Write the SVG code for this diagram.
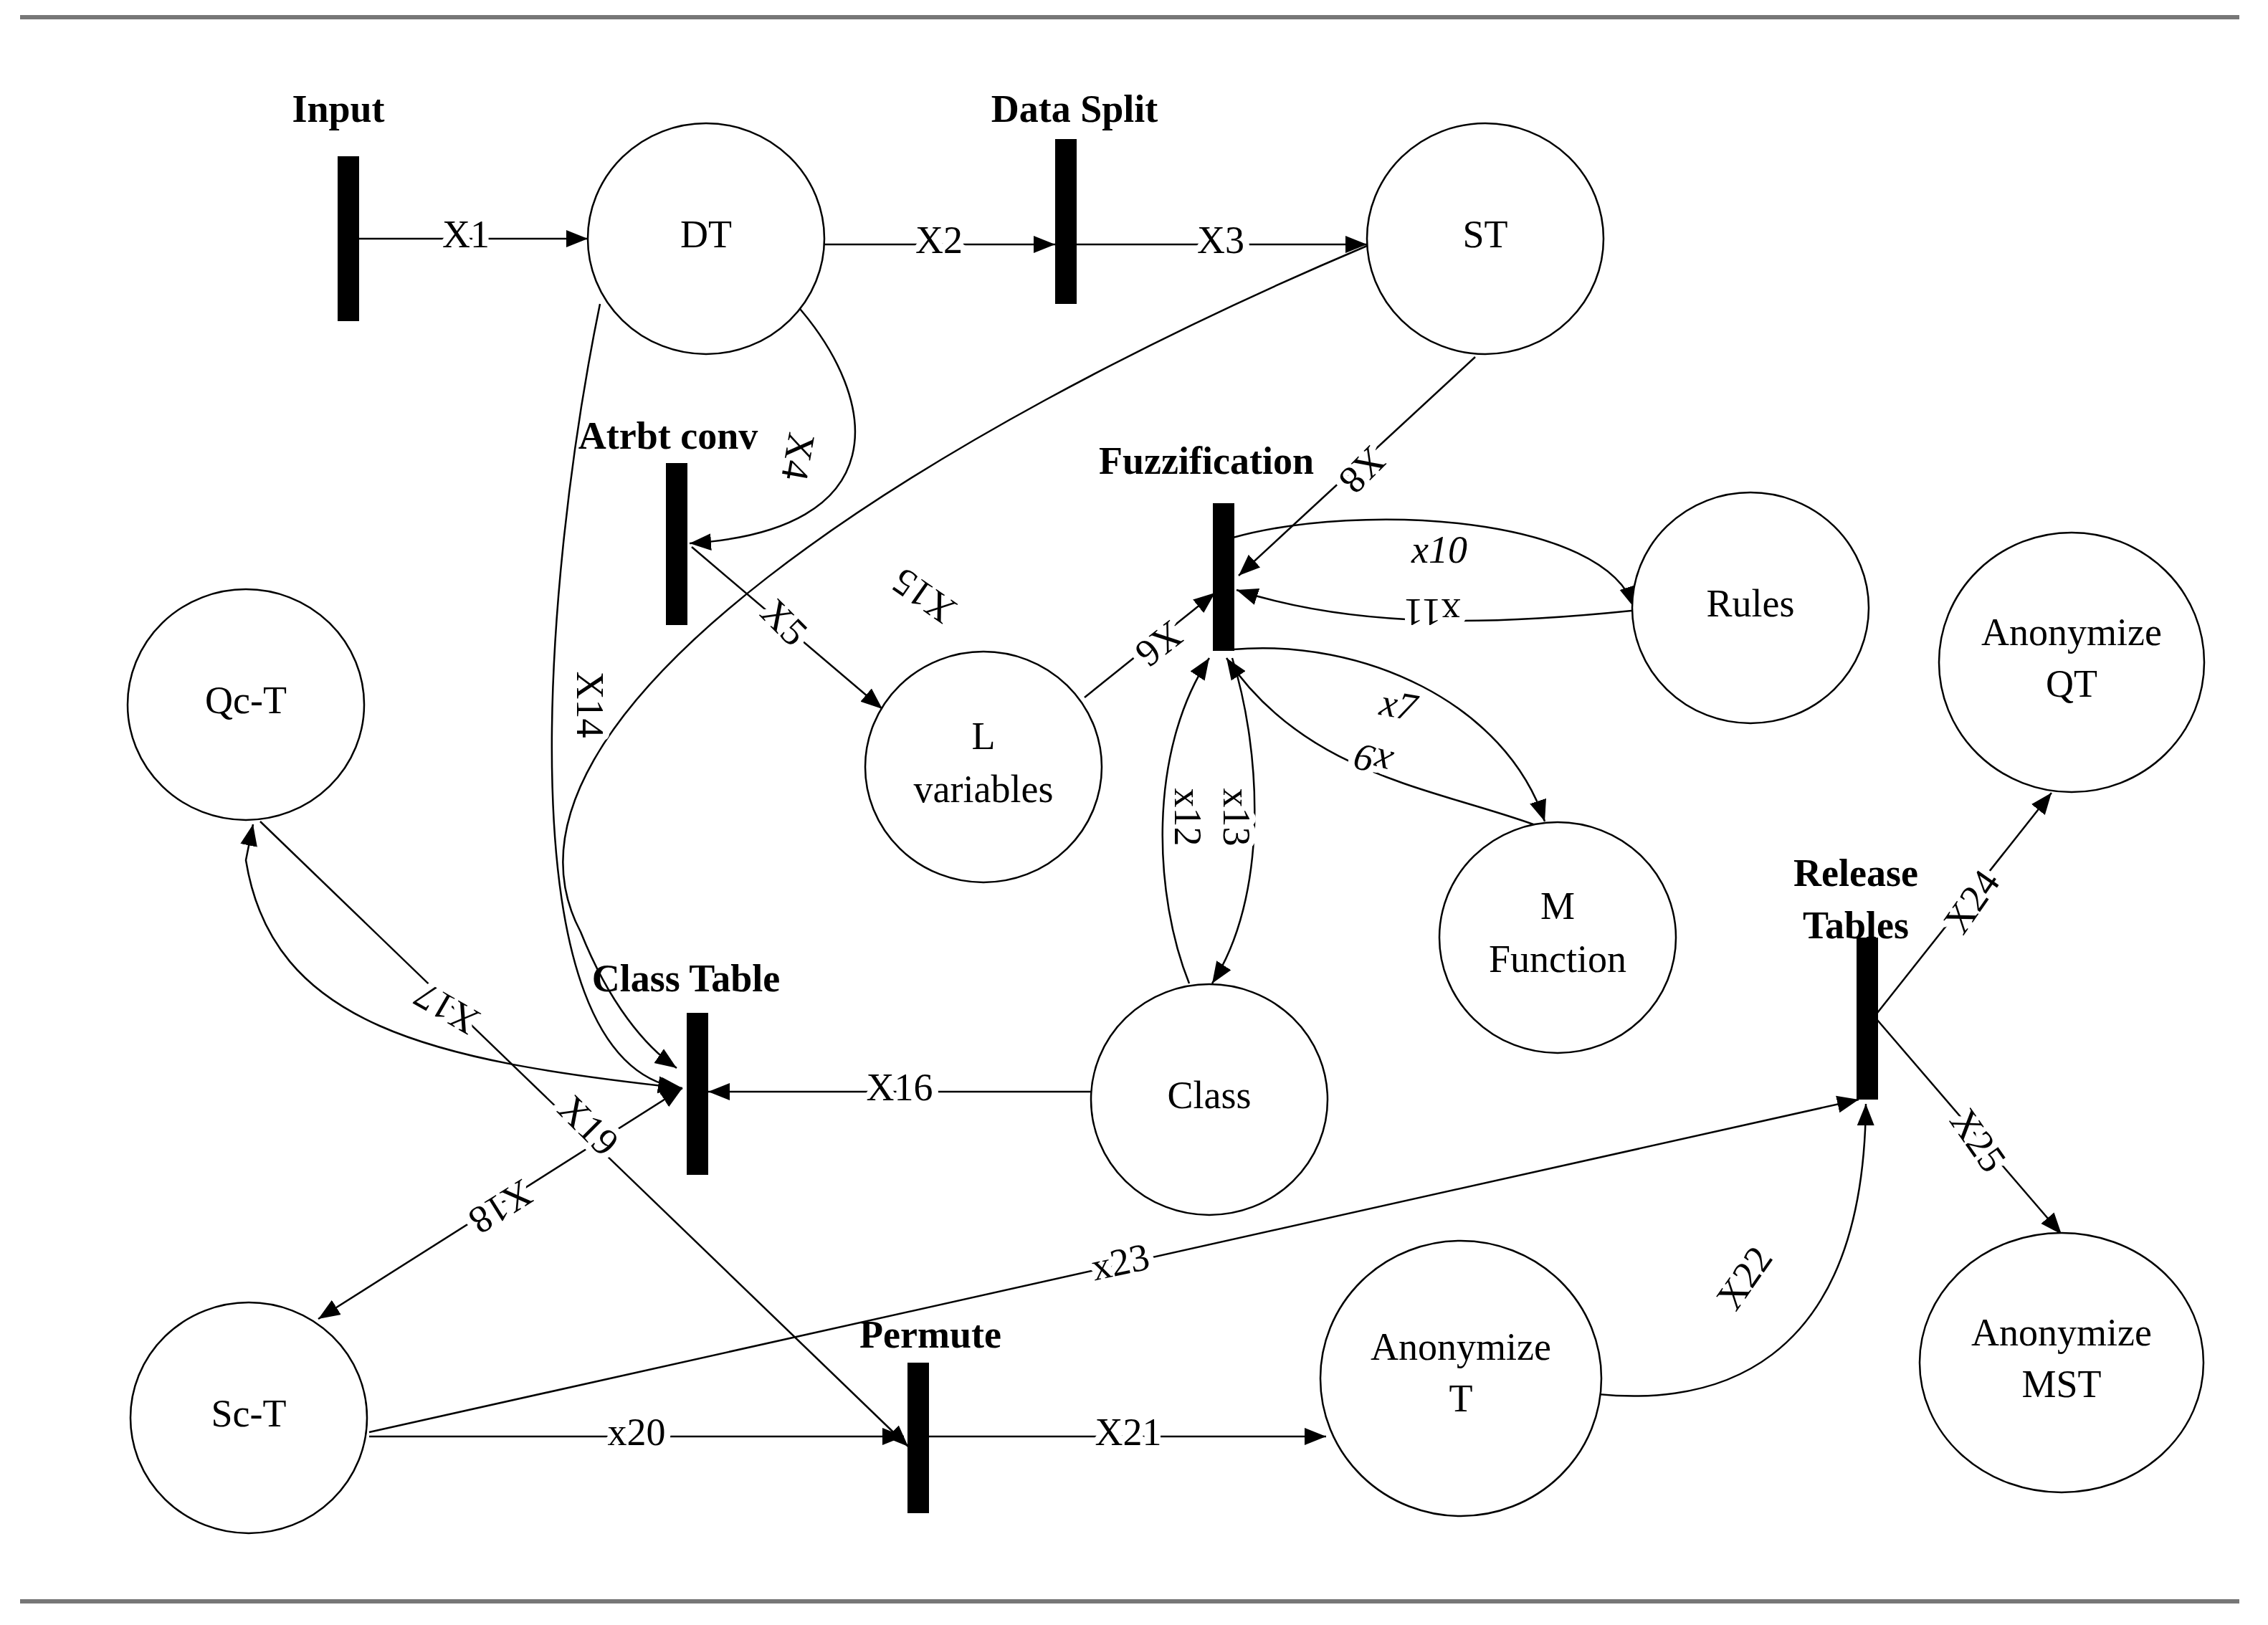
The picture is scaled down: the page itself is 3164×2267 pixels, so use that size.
<svg xmlns="http://www.w3.org/2000/svg" width="3164" height="2267" viewBox="0 0 3164 2267">
<style>
.n{fill:#fff;stroke:#000;stroke-width:2.5}
.b{fill:#000}
.t{font-family:"Liberation Serif",serif;font-size:54px;text-anchor:middle;dominant-baseline:middle}
.h{font-family:"Liberation Serif",serif;font-size:54px;font-weight:bold;text-anchor:middle}
.e{fill:none;stroke:#000;stroke-width:2.5;marker-end:url(#a2)}
.l{font-family:"Liberation Serif",serif;font-size:54px;text-anchor:middle;dominant-baseline:middle;paint-order:stroke;stroke:#fff;stroke-width:18;stroke-linejoin:round}
.i{font-style:italic}
</style>
<defs>
<marker id="a2" viewBox="0 0 10 10" refX="10" refY="5" markerWidth="30" markerHeight="30" markerUnits="userSpaceOnUse" orient="auto-start-reverse"><path d="M0,1L10,5L0,9z"/></marker></defs>
<line x1="28" y1="24" x2="3124" y2="24" stroke="#777" stroke-width="6"/>
<line x1="28" y1="2234" x2="3124" y2="2234" stroke="#777" stroke-width="6"/>
<g id="edges">
<path class="e" d="M500,333H820"/>
<path class="e" d="M1150,341H1472"/>
<path class="e" d="M1502,341H1907"/>
<path class="e" d="M1110,424C1230,560 1250,740 962,758"/>
<path class="e" d="M965,763L1231,989"/>
<path class="e" d="M1513,973L1695,827"/>
<path class="e" d="M2058,498L1728,803"/>
<path class="e" d="M1720,750C1900,700 2240,720 2280,848"/>
<path class="e" d="M2276,852C2100,870 1900,880 1725,823"/>
<path class="e" d="M1720,906C1900,890 2100,980 2155,1146"/>
<path class="e" d="M2139,1150C2000,1100 1820,1080 1711,918"/>
<path class="e" d="M1659,1372C1610,1250 1600,1050 1687,918"/>
<path class="e" d="M1719,918C1760,1050 1770,1250 1691,1372"/>
<path class="e" d="M837,424C760,800 700,1480 948,1518"/>
<path class="e" d="M1907,343C1300,600 650,1000 810,1300C850,1400 900,1460 944,1490"/>
<path class="e" d="M1523,1523H988"/>
<path class="e" style="marker-start:url(#a2)" d="M952,1518C600,1480 380,1430 343,1200L353,1150"/>
<path class="e" d="M363,1146L1267,2018"/>
<path class="e" style="marker-start:url(#a2)" d="M952,1518L444,1840"/>
<path class="e" d="M515,2004H1261"/>
<path class="e" d="M1291,2004H1850"/>
<path class="e" d="M515,1998L2593,1534"/>
<path class="e" d="M2175,1937C2400,1980 2600,1900 2603,1540"/>
<path class="e" d="M2619,1413L2862,1106"/>
<path class="e" d="M2619,1423L2876,1722"/>
<text class="l" x="650" y="333">X1</text>
<text class="l" x="1310" y="341">X2</text>
<text class="l" x="1703" y="341">X3</text>
<text class="l" transform="translate(1108,636) rotate(100)">X4</text>
<text class="l" transform="translate(1090,872) rotate(45)">X5</text>
<text class="l" transform="translate(1614,894) rotate(142)">X6</text>
<text class="l" transform="translate(1897,652) rotate(135)">X8</text>
<text class="l i" x="2008" y="773">x10</text>
<text class="l" transform="translate(1998,848) rotate(180)">x11</text>
<text class="l i" transform="translate(1950,989) rotate(10)">x7</text>
<text class="l i" transform="translate(1917,1055) rotate(195)">x9</text>
<text class="l" transform="translate(1651,1140) rotate(90)">x12</text>
<text class="l" transform="translate(1719,1140) rotate(90)">x13</text>
<text class="l" transform="translate(817,983) rotate(90)">X14</text>
<text class="l" transform="translate(1292,827) rotate(215)">X15</text>
<text class="l" x="1255" y="1523">X16</text>
<text class="l" transform="translate(626,1402) rotate(210)">X17</text>
<text class="l" transform="translate(817,1574) rotate(45)">X19</text>
<text class="l" transform="translate(696,1679) rotate(148)">X18</text>
<text class="l" x="888" y="2004">x20</text>
<text class="l" x="1574" y="2004">X21</text>
<text class="l" transform="translate(1564,1766) rotate(-12)">x23</text>
<text class="l" transform="translate(2438,1786) rotate(-55)">X22</text>
<text class="l" transform="translate(2755,1261) rotate(-55)">X24</text>
<text class="l" transform="translate(2755,1594) rotate(55)">X25</text>
</g>
<g id="DT"><ellipse class="n" cx="985" cy="333" rx="165" ry="161"/><text class="t" x="985" y="333">DT</text></g>
<g id="ST"><ellipse class="n" cx="2072" cy="333" rx="165" ry="161"/><text class="t" x="2072" y="333">ST</text></g>
<g id="QcT"><ellipse class="n" cx="343" cy="983" rx="165" ry="161"/><text class="t" x="343" y="983">Qc-T</text></g>
<g id="Lvar"><ellipse class="n" cx="1372" cy="1070" rx="165" ry="161"/><text class="t" x="1372" y="1033">L</text><text class="t" x="1372" y="1107">variables</text></g>
<g id="Rules"><ellipse class="n" cx="2442" cy="848" rx="165" ry="161"/><text class="t" x="2442" y="848">Rules</text></g>
<g id="AQT"><ellipse class="n" cx="2890" cy="924" rx="185" ry="181"/><text class="t" x="2890" y="888">Anonymize</text><text class="t" x="2890" y="960">QT</text></g>
<g id="MF"><ellipse class="n" cx="2173" cy="1308" rx="165" ry="161"/><text class="t" x="2173" y="1270">M</text><text class="t" x="2173" y="1344">Function</text></g>
<g id="Class"><ellipse class="n" cx="1687" cy="1534" rx="165" ry="161"/><text class="t" x="1687" y="1534">Class</text></g>
<g id="AT"><ellipse class="n" cx="2038" cy="1923" rx="196" ry="192"/><text class="t" x="2038" y="1885">Anonymize</text><text class="t" x="2038" y="1957">T</text></g>
<g id="AMST"><ellipse class="n" cx="2876" cy="1901" rx="198" ry="181"/><text class="t" x="2876" y="1865">Anonymize</text><text class="t" x="2876" y="1937">MST</text></g>
<g id="ScT"><ellipse class="n" cx="347" cy="1978" rx="165" ry="161"/><text class="t" x="347" y="1978">Sc-T</text></g>
<g id="Input"><rect class="b" x="471" y="218" width="30" height="230"/><text class="h" x="472" y="170">Input</text></g>
<g id="DataSplit"><rect class="b" x="1472" y="194" width="30" height="230"/><text class="h" x="1499" y="170">Data Split</text></g>
<g id="Atrbt"><rect class="b" x="929" y="646" width="30" height="226"/><text class="h" x="932" y="626">Atrbt conv</text></g>
<g id="Fuzz"><rect class="b" x="1692" y="702" width="30" height="206"/><text class="h" x="1683" y="661">Fuzzification</text></g>
<g id="ClassTable"><rect class="b" x="958" y="1413" width="30" height="226"/><text class="h" x="957" y="1383">Class Table</text></g>
<g id="Release"><rect class="b" x="2590" y="1308" width="30" height="226"/><text class="h" x="2589" y="1236">Release</text><text class="h" x="2589" y="1309">Tables</text></g>
<g id="Permute"><rect class="b" x="1266" y="1901" width="30" height="210"/><text class="h" x="1298" y="1880">Permute</text></g>
</svg>
